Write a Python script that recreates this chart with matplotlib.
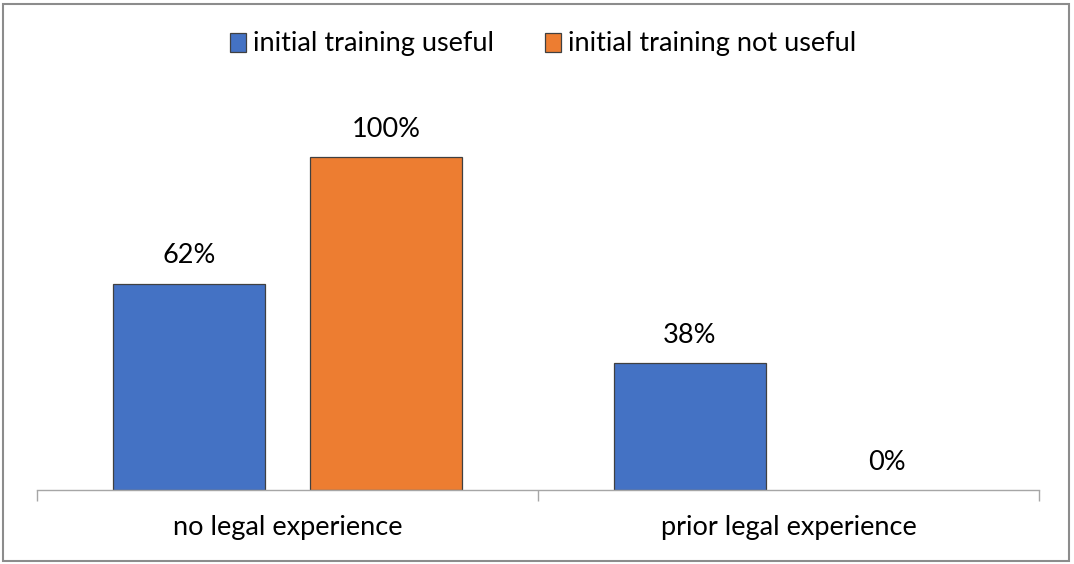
import numpy as np
import matplotlib.pyplot as plt
from matplotlib.patches import Rectangle

categories = ['no legal experience', 'prior legal experience']
useful = [0.62, 0.38]
not_useful = [1.00, 0.00]
series_names = ['initial training useful', 'initial training not useful']

plt.rcParams['font.family'] = ['Lato', 'DejaVu Sans']

fig = plt.figure(figsize=(10.74, 5.64), dpi=100)
ax = fig.add_axes([37 / 1074, 74 / 564, 1002 / 1074, 400 / 564])

x = np.arange(len(categories))
w = 0.303
off = 0.197
b1 = ax.bar(x - off, useful, w, color='#4472C4', edgecolor='#404040', linewidth=0.9,
            label=series_names[0])
b2 = ax.bar(x + off, not_useful, w, color='#ED7D31', edgecolor='#404040', linewidth=0.9,
            label=series_names[1])

for bars in (b1, b2):
    for r in bars:
        h = r.get_height()
        if h == 0:
            r.set_linewidth(0)
        ax.annotate(f'{h:.0%}', (r.get_x() + r.get_width() / 2, h),
                    xytext=(0, 20), textcoords='offset points',
                    ha='center', va='center', fontsize=19.5, color='#000000')

ax.set_xlim(-0.5, len(categories) - 0.5)
ax.set_ylim(0, 1.2012)
for s in ['top', 'right', 'left']:
    ax.spines[s].set_visible(False)
ax.spines['bottom'].set_color('#a6a6a6')
ax.spines['bottom'].set_linewidth(1)
ax.spines['bottom'].set_zorder(3)
ax.set_yticks([])
ax.set_xticks(np.arange(-0.5, len(categories)), minor=False)
ax.set_xticklabels([])
ax.tick_params(axis='x', length=8, color='#a6a6a6', width=1, direction='out')
for i, c in enumerate(categories):
    ax.text(i, -0.112, c, ha='center', va='center', fontsize=19.5,
            transform=ax.transData)

fig.legend(loc='center', bbox_to_anchor=(543 / 1074, 1 - 44 / 564), ncol=2,
           frameon=False, fontsize=19.5, handlelength=0.6, handleheight=0.7,
           handletextpad=0.25, columnspacing=1.9)

fig.patches.append(Rectangle((3 / 1074, 3 / 564), 1066 / 1074, 557 / 564,
                             transform=fig.transFigure, fill=False,
                             edgecolor='#8c8c8c', linewidth=1.5))

fig.savefig('out.png', dpi=100)
